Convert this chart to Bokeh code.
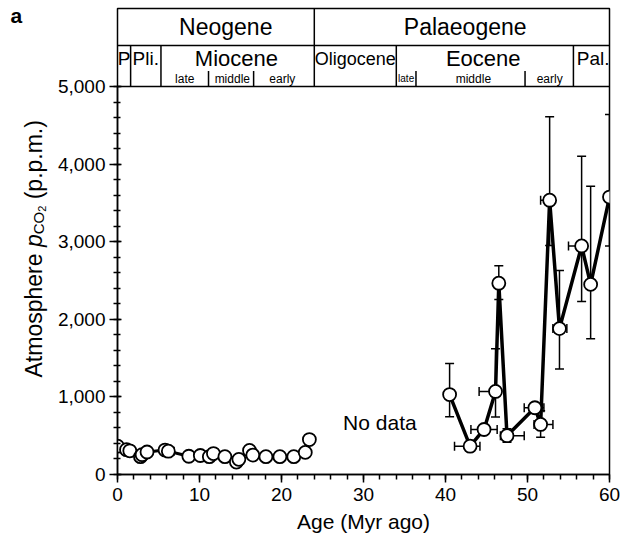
import math
from bokeh.plotting import figure
from bokeh.layouts import row
from bokeh.models import (ColumnDataSource, Label, FixedTicker, NumeralTickFormatter,
                          Whisker, TeeHead)
from bokeh.embed import file_html
from bokeh.resources import INLINE

FONT = "Liberation Sans"

# ---- data ----
neo_age = [0.0, 1.1, 1.5, 2.8, 3.0, 3.6, 5.8, 6.2, 8.7, 10.1, 11.2, 11.7, 13.1,
           14.5, 14.8, 16.1, 16.5, 18.1, 19.8, 21.5, 22.9, 23.4]
neo_ppm = [365, 320, 305, 230, 255, 290, 315, 300, 235, 245, 230, 270, 230,
           160, 195, 310, 250, 230, 230, 230, 285, 450]

pal_age = [40.5, 43.0, 44.7, 46.1, 46.5, 47.5, 50.9, 51.6, 52.7, 53.9, 56.6, 57.7, 60.0]
pal_ppm = [1030, 365, 580, 1070, 2465, 500, 860, 645, 3535, 1880, 2945, 2450, 3575]

# vertical error bars
yerr_age = [40.5, 43.0, 46.1, 46.5, 47.5, 51.6, 52.7, 53.9, 56.6, 57.7, 60.0, 14.5, 19.8]
yerr_lo = [745, 300, 740, 2255, 415, 480, 2950, 1360, 2230, 1750, 2945, 120, 195]
yerr_hi = [1430, 430, 1620, 2690, 590, 820, 4610, 2630, 4100, 3715, 4640, 200, 265]

# horizontal error bars
xerr_ppm = [365, 580, 1070, 500, 860, 645, 3535, 1880, 2945, 300]
xerr_lo = [41.1, 43.1, 44.1, 46.7, 49.6, 50.8, 51.6, 53.1, 55.0, 5.5]
xerr_hi = [44.2, 46.3, 46.1, 49.6, 52.0, 53.1, 52.7, 54.8, 56.6, 6.9]

x_ticks = [0, 10, 20, 30, 40, 50, 60]
x_minor = list(range(0, 61, 2))
y_ticks = [0, 1000, 2000, 3000, 4000, 5000]
y_minor = list(range(0, 5001, 200))

# geological time-scale header
periods = ["Neogene", "Palaeogene"]
period_mid = [13.2, 42.4]
epochs = ["P", "Pli.", "Miocene", "Oligocene", "Eocene", "Pal."]
epoch_mid = [0.8, 3.45, 14.5, 29.0, 44.6, 58.0]
epoch_size = ["19px", "19px", "22px", "18px", "22px", "19px"]
subepochs = ["late", "middle", "early", "late", "middle", "early"]
subepoch_mid = [8.2, 14.0, 20.1, 35.2, 43.4, 52.7]
subepoch_size = ["12px", "12px", "12px", "10px", "12px", "12px"]
period_bounds = [24.0]
epoch_bounds = [1.6, 5.3, 34.0, 55.6]
sub_bounds = [11.1, 16.6, 36.4, 49.7]

Y_TOP = 6005
Y_ROW = 5528
Y_AX = 5000

p = figure(width=580, height=540, x_range=(0, 60), y_range=(0, Y_TOP),
           output_backend="svg", toolbar_location=None,
           min_border_left=67, min_border_right=21, min_border_top=8,
           min_border_bottom=66)
p.grid.visible = False
p.outline_line_color = "black"
p.outline_line_width = 1.5
p.background_fill_color = "white"
p.border_fill_color = "white"

# axes
xa = p.xaxis[0]
xa.ticker = FixedTicker(ticks=x_ticks, minor_ticks=x_minor)
xa.axis_label = "Age (Myr ago)"
xa.axis_label_text_font = FONT
xa.axis_label_text_font_size = "21px"
xa.axis_label_text_font_style = "normal"
xa.axis_label_text_color = "black"
xa.axis_label_standoff = 6
xa.major_label_text_font = FONT
xa.major_label_text_font_size = "19px"
xa.major_label_text_color = "black"
xa.major_label_standoff = 5
xa.major_tick_in = 0
xa.major_tick_out = 8
xa.minor_tick_in = 0
xa.minor_tick_out = 5
xa.axis_line_width = 1.5
xa.major_tick_line_width = 1.5
xa.minor_tick_line_width = 1.5

ya = p.yaxis[0]
ya.ticker = FixedTicker(ticks=y_ticks, minor_ticks=y_minor)
ya.formatter = NumeralTickFormatter(format="0,0")
ya.bounds = (0, 5000)
ya.major_label_text_font = FONT
ya.major_label_text_font_size = "19px"
ya.major_label_text_color = "black"
ya.major_label_standoff = 4
ya.major_tick_in = 4
ya.major_tick_out = 8
ya.minor_tick_in = 3
ya.minor_tick_out = 4
ya.axis_line_width = 1.5
ya.major_tick_line_width = 1.5
ya.minor_tick_line_width = 1.5

# header lines
p.segment(x0=[0, 0], y0=[Y_ROW, Y_AX], x1=[60, 60], y1=[Y_ROW, Y_AX],
          line_color="black", line_width=1.5)
p.segment(x0=period_bounds, y0=[Y_AX] * len(period_bounds),
          x1=period_bounds, y1=[Y_TOP] * len(period_bounds),
          line_color="black", line_width=1.5)
p.segment(x0=epoch_bounds, y0=[Y_AX] * len(epoch_bounds),
          x1=epoch_bounds, y1=[Y_ROW] * len(epoch_bounds),
          line_color="black", line_width=1.5)
p.segment(x0=sub_bounds, y0=[Y_AX] * len(sub_bounds),
          x1=sub_bounds, y1=[5200] * len(sub_bounds),
          line_color="black", line_width=1.5)

for name, xm in zip(periods, period_mid):
    p.add_layout(Label(x=xm, y=5765, text=name, text_align="center",
                       text_baseline="middle", text_font=FONT,
                       text_font_size="23px", text_color="black"))
for name, xm, fs in zip(epochs, epoch_mid, epoch_size):
    p.add_layout(Label(x=xm, y=5355, text=name, text_align="center",
                       text_baseline="middle", text_font=FONT,
                       text_font_size=fs, text_color="black"))
for name, xm, fs in zip(subepochs, subepoch_mid, subepoch_size):
    p.add_layout(Label(x=xm, y=5100, text=name, text_align="center",
                       text_baseline="middle", text_font=FONT,
                       text_font_size=fs, text_color="black"))

# error bars
ysrc = ColumnDataSource(dict(x=yerr_age, lo=yerr_lo, hi=yerr_hi))
p.add_layout(Whisker(source=ysrc, base="x", lower="lo", upper="hi", dimension="height",
                     line_width=1.5, line_color="black", level="underlay",
                     upper_head=TeeHead(size=9, line_width=1.5, line_color="black"),
                     lower_head=TeeHead(size=9, line_width=1.5, line_color="black")))
xsrc = ColumnDataSource(dict(y=xerr_ppm, lo=xerr_lo, hi=xerr_hi))
p.add_layout(Whisker(source=xsrc, base="y", lower="lo", upper="hi", dimension="width",
                     line_width=1.5, line_color="black", level="underlay",
                     upper_head=TeeHead(size=9, line_width=1.5, line_color="black"),
                     lower_head=TeeHead(size=9, line_width=1.5, line_color="black")))

# data lines and markers
p.line(neo_age, neo_ppm, line_color="black", line_width=3)
p.line(pal_age, pal_ppm, line_color="black", line_width=3.5)
p.scatter(neo_age, neo_ppm, marker="circle", size=13, fill_color="white",
          line_color="black", line_width=1.8)
p.scatter(pal_age, pal_ppm, marker="circle", size=13, fill_color="white",
          line_color="black", line_width=1.8)

p.add_layout(Label(x=32.0, y=670, text="No data", text_align="center",
                   text_baseline="middle", text_font=FONT, text_font_size="21px",
                   text_color="black"))

# ---- left strip: panel letter and rotated y-axis label ----
# The row aligns this strip's frame with the main frame (rows 8..474 px),
# so y is given as (540 - screen_y) with range 66..532.
lf = figure(width=50, height=540, x_range=(0, 50), y_range=(66, 532),
            output_backend="svg", toolbar_location=None,
            x_axis_location=None, y_axis_location=None,
            min_border=0, min_border_left=0, min_border_right=0,
            min_border_top=8, min_border_bottom=66)
lf.title.visible = False
lf.grid.visible = False
lf.outline_line_color = None
lf.background_fill_color = "white"
lf.border_fill_color = "white"

lf.add_layout(Label(x=10, y=540 - 15, text="a", text_align="left",
                    text_baseline="alphabetic", text_font=FONT, text_font_size="21px",
                    text_font_style="bold", text_color="black"))

FS = 23
base_x = 33
pieces = [
    ("Atmosphere", FS, "normal", 0, 5.391 * FS + 0.278 * FS),
    ("p", FS, "italic", 0, 0.556 * FS),
    ("CO", 15, "normal", 5, 1.5 * 15),
    ("2", 11, "normal", 8, 0.556 * 11 + 0.278 * FS),
    ("(p.p.m.)", FS, "normal", 0, 3.445 * FS),
]
cur = 540 - 377
for txt, fs, style, dx, w in pieces:
    lf.add_layout(Label(x=base_x + dx, y=cur, text=txt, angle=math.pi / 2,
                        text_align="left", text_baseline="alphabetic",
                        text_font=FONT, text_font_size=f"{fs}px",
                        text_font_style=style, text_color="black"))
    cur += w

layout = row(lf, p, spacing=0)
open("out.html", "w").write(file_html(layout, INLINE))
